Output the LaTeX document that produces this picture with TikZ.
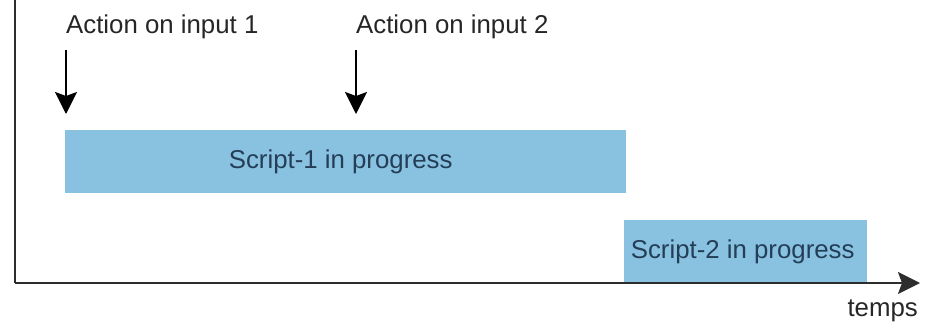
\documentclass[tikz,border=0pt]{standalone}
\usepackage{fontspec}
\setmainfont{Liberation Sans}
\usetikzlibrary{arrows.meta}
\definecolor{barfill}{RGB}{137,194,224}
\definecolor{bartext}{RGB}{36,62,88}
\definecolor{axisgray}{RGB}{45,45,45}
\begin{document}
\begin{tikzpicture}[x=1pt,y=-1pt,
  every node/.style={font=\fontsize{25.8}{30}\selectfont},
  bar/.style={fill=barfill, draw=none, text=bartext, anchor=north west, inner sep=0pt},
  label/.style={anchor=base west, inner sep=0pt, text=black!85},
  axis/.style={draw=axisgray, line width=2pt},
  act/.style={draw=black, line width=2pt, -{Stealth[length=22pt,width=22pt,inset=4pt]}}]
\useasboundingbox (0,0) rectangle (927,325);
% time axes
\coordinate (ytop) at (15,0);
\coordinate (orig) at (15,283);
\coordinate (xend) at (920,283);
% script bars
\node[bar, minimum width=561pt, minimum height=63pt] (s1) at (65,130) {Script-1 in progress\hspace*{10pt}};
\node[bar, minimum width=243pt, minimum height=63pt] (s2) at (624,220) {Script-2 in progress\hspace*{6pt}};
\draw[axis] (ytop) -- (orig);
\draw[axis, -{Stealth[length=22pt,width=22pt,inset=4pt]}] (orig) -- (xend);
% action labels and markers
\node[label] (a1) at (66,33) {Action on input 1};
\node[label] (a2) at (356,33) {Action on input 2};
\coordinate (p1) at (66,50);
\coordinate (q1) at (66,114);
\coordinate (p2) at (356,50);
\coordinate (q2) at (356,114);
\draw[act] (p1) -- (q1);
\draw[act] (p2) -- (q2);
\node[anchor=base east, inner sep=0pt, text=black!85] (t) at (918,316) {temps};
\end{tikzpicture}
\end{document}
